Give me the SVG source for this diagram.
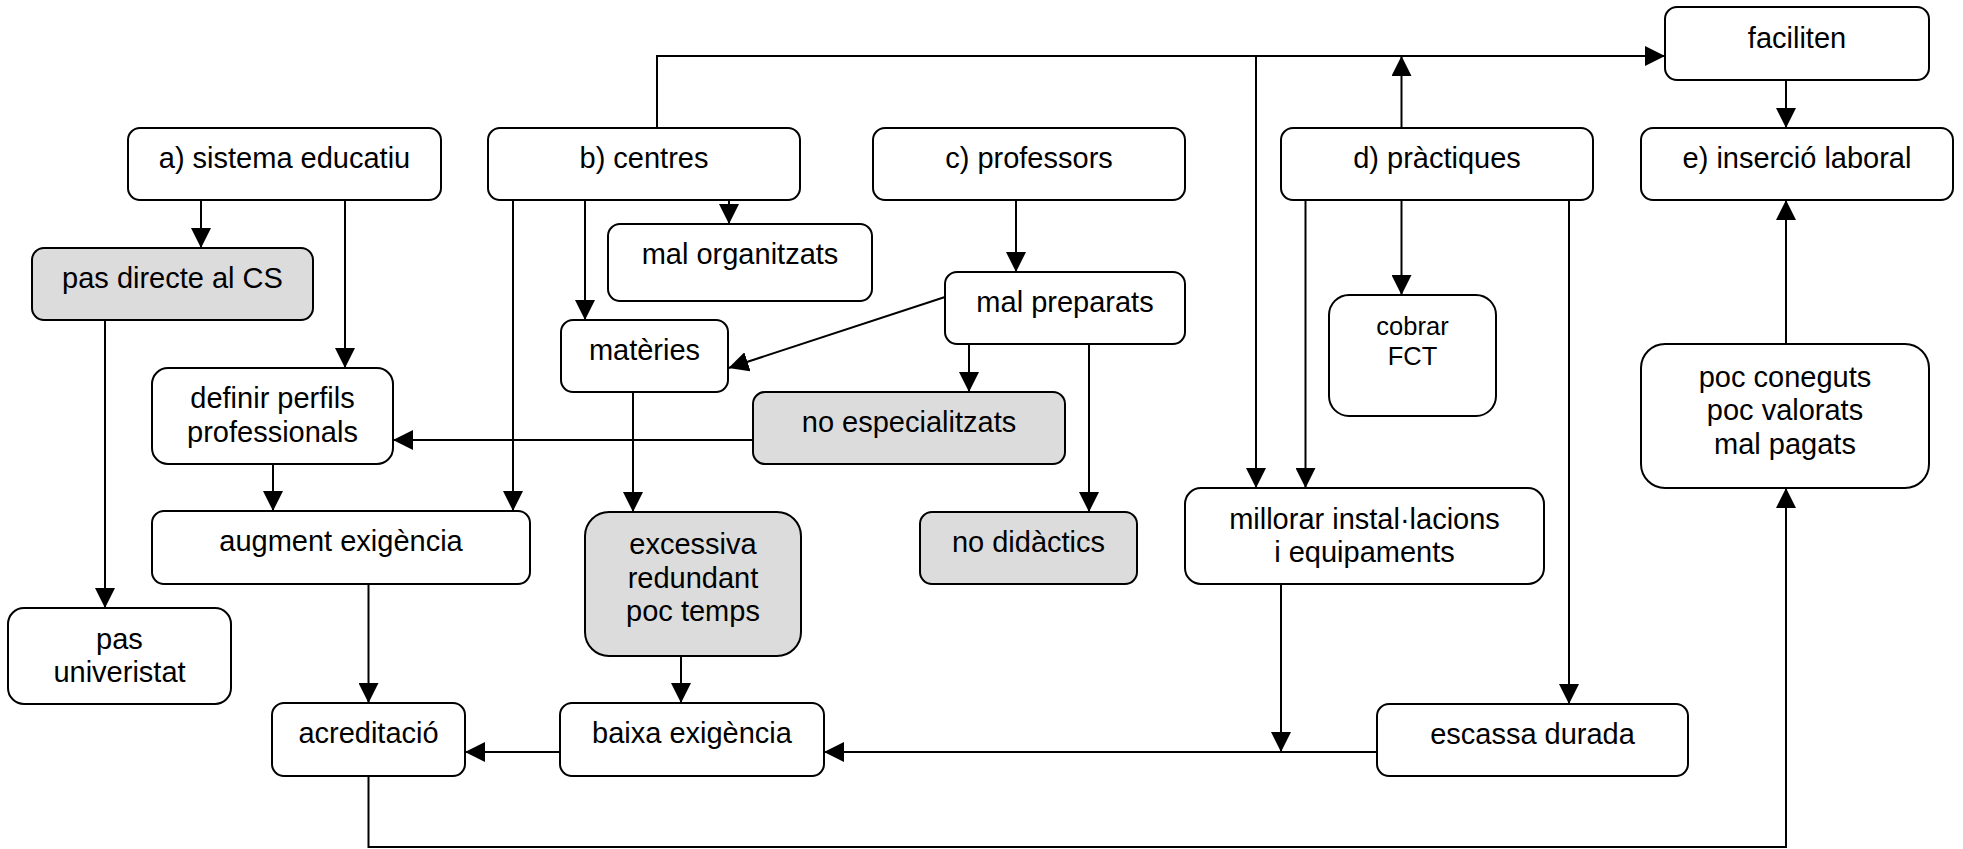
<svg xmlns="http://www.w3.org/2000/svg" width="1963" height="849" viewBox="0 0 1963 849">
<defs>
<style>
.n rect{fill:#ffffff;stroke:#000;stroke-width:2}
.g rect{fill:#dcdcdc}
.n text{font-family:"Liberation Sans",Arial,sans-serif;font-size:29px;text-anchor:middle;fill:#000}
.n text.s{font-size:25.5px}
#connectors path{fill:none;stroke:#000;stroke-width:2}
</style>
<marker id="ah" markerUnits="userSpaceOnUse" markerWidth="20" markerHeight="20" refX="20" refY="10" orient="auto">
<path d="M0,0 L20,10 L0,20 Z" fill="#000"/>
</marker>
</defs>
<rect width="1963" height="849" fill="#fff"/>
<g id="connectors">
<path d="M201,200 V248" marker-end="url(#ah)"/>
<path d="M345,200 V368" marker-end="url(#ah)"/>
<path d="M105,320 V608" marker-end="url(#ah)"/>
<path d="M273,464 V511" marker-end="url(#ah)"/>
<path d="M513,200 V511" marker-end="url(#ah)"/>
<path d="M585,200 V320" marker-end="url(#ah)"/>
<path d="M729,200 V224" marker-end="url(#ah)"/>
<path d="M657,128 V56 H1665" marker-end="url(#ah)"/>
<path d="M1256,56 V488" marker-end="url(#ah)"/>
<path d="M1401.5,128 V56" marker-end="url(#ah)"/>
<path d="M1401.5,200 V295" marker-end="url(#ah)"/>
<path d="M1305.5,200 V488" marker-end="url(#ah)"/>
<path d="M1569,200 V704" marker-end="url(#ah)"/>
<path d="M1786,80 V128" marker-end="url(#ah)"/>
<path d="M1786,344 V200" marker-end="url(#ah)"/>
<path d="M1016,200 V272" marker-end="url(#ah)"/>
<path d="M945,297 L728.5,368" marker-end="url(#ah)"/>
<path d="M969,344 V392" marker-end="url(#ah)"/>
<path d="M1089,344 V512" marker-end="url(#ah)"/>
<path d="M753,440 H393" marker-end="url(#ah)"/>
<path d="M633,392 V512" marker-end="url(#ah)"/>
<path d="M681,656 V703" marker-end="url(#ah)"/>
<path d="M560,752 H465" marker-end="url(#ah)"/>
<path d="M1377,752 H824" marker-end="url(#ah)"/>
<path d="M1281,584 V752" marker-end="url(#ah)"/>
<path d="M368.5,584 V703" marker-end="url(#ah)"/>
<path d="M368.5,776 V847 H1786 V488" marker-end="url(#ah)"/>
</g>
<g id="n-a" class="n"><rect x="128" y="128" width="313" height="72" rx="12"/><text x="284.5" y="168">a) sistema educatiu</text></g>
<g id="n-pasCS" class="n g"><rect x="32" y="248" width="281" height="72" rx="12"/><text x="172.5" y="288">pas directe al CS</text></g>
<g id="n-definir" class="n"><rect x="152" y="368" width="241" height="96" rx="16"/><text x="272.5" y="408">definir perfils</text><text x="272.5" y="441.5">professionals</text></g>
<g id="n-augment" class="n"><rect x="152" y="511" width="378" height="73" rx="12"/><text x="341" y="551">augment exigència</text></g>
<g id="n-pasUniv" class="n"><rect x="8" y="608" width="223" height="96" rx="16"/><text x="119.5" y="648.5">pas</text><text x="119.5" y="682">univeristat</text></g>
<g id="n-acred" class="n"><rect x="272" y="703" width="193" height="73" rx="12"/><text x="368.5" y="743">acreditació</text></g>
<g id="n-b" class="n"><rect x="488" y="128" width="312" height="72" rx="12"/><text x="644" y="168">b) centres</text></g>
<g id="n-malOrg" class="n"><rect x="608" y="224" width="264" height="77" rx="12"/><text x="740" y="263.5">mal organitzats</text></g>
<g id="n-materies" class="n"><rect x="561" y="320" width="167" height="72" rx="12"/><text x="644.5" y="360">matèries</text></g>
<g id="n-excessiva" class="n g"><rect x="585" y="512" width="216" height="144" rx="24"/><text x="693" y="554">excessiva</text><text x="693" y="587.5">redundant</text><text x="693" y="621">poc temps</text></g>
<g id="n-baixa" class="n"><rect x="560" y="703" width="264" height="73" rx="12"/><text x="692" y="743">baixa exigència</text></g>
<g id="n-c" class="n"><rect x="873" y="128" width="312" height="72" rx="12"/><text x="1029" y="168">c) professors</text></g>
<g id="n-malPrep" class="n"><rect x="945" y="272" width="240" height="72" rx="12"/><text x="1065" y="312">mal preparats</text></g>
<g id="n-noEsp" class="n g"><rect x="753" y="392" width="312" height="72" rx="12"/><text x="909" y="432">no especialitzats</text></g>
<g id="n-noDid" class="n g"><rect x="920" y="512" width="217" height="72" rx="12"/><text x="1028.5" y="552">no didàctics</text></g>
<g id="n-d" class="n"><rect x="1281" y="128" width="312" height="72" rx="12"/><text x="1437" y="168">d) pràctiques</text></g>
<g id="n-cobrar" class="n"><rect x="1329" y="295" width="167" height="121" rx="20"/><text class="s" x="1412.5" y="335">cobrar</text><text class="s" x="1412.5" y="365">FCT</text></g>
<g id="n-millorar" class="n"><rect x="1185" y="488" width="359" height="96" rx="16"/><text x="1364.5" y="528.5">millorar instal·lacions</text><text x="1364.5" y="562">i equipaments</text></g>
<g id="n-escassa" class="n"><rect x="1377" y="704" width="311" height="72" rx="12"/><text x="1532.5" y="744">escassa durada</text></g>
<g id="n-faciliten" class="n"><rect x="1665" y="7" width="264" height="73" rx="12"/><text x="1797" y="47.5">faciliten</text></g>
<g id="n-e" class="n"><rect x="1641" y="128" width="312" height="72" rx="12"/><text x="1797" y="168">e) inserció laboral</text></g>
<g id="n-poc" class="n"><rect x="1641" y="344" width="288" height="144" rx="24"/><text x="1785" y="386.5">poc coneguts</text><text x="1785" y="420">poc valorats</text><text x="1785" y="453.5">mal pagats</text></g>
</svg>
